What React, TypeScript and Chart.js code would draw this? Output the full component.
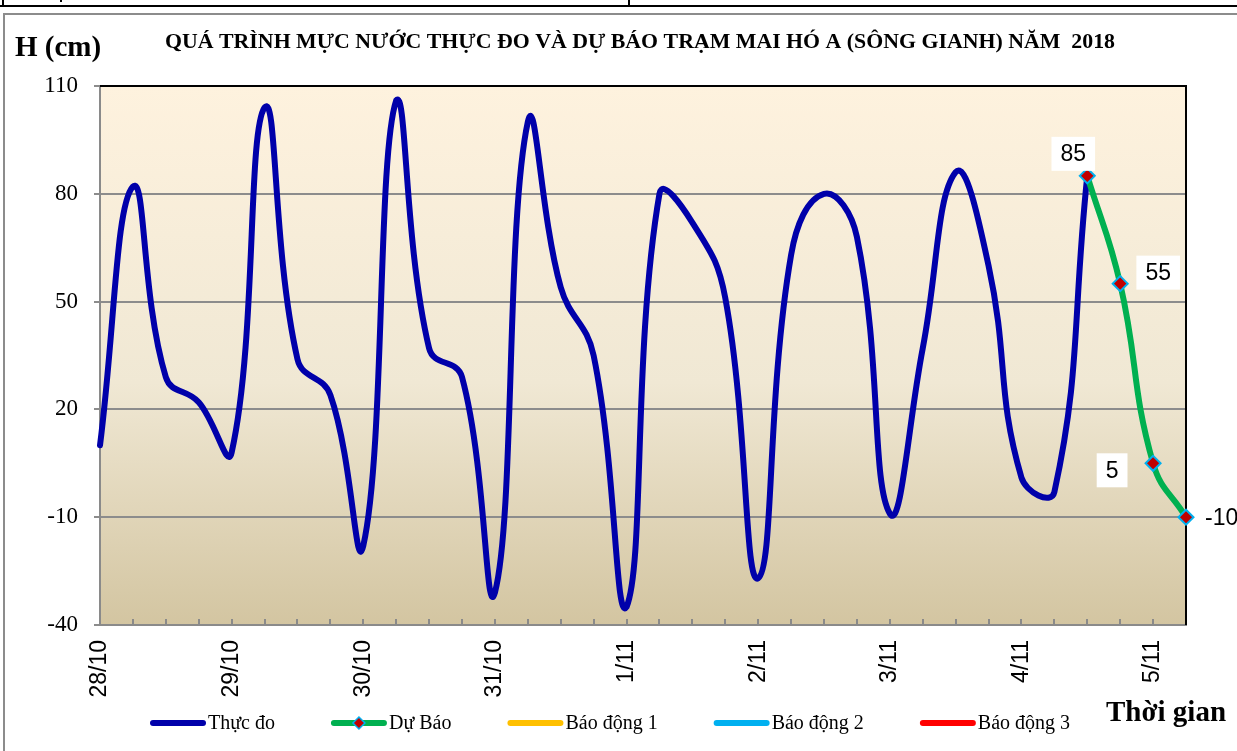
import React, { useEffect, useRef } from "react";
import { Chart, registerables } from "chart.js";

Chart.register(...registerables);

// ---- data ----
const dayLabels = ["28/10", "29/10", "30/10", "31/10", "1/11", "2/11", "3/11", "4/11", "5/11"];
const stepsPerDay = 4; // 6-hourly observations
const observed = [
  10, 82, 29, 22, 8, 104, 34, 24, -18, 106, 37, 29, -31, 100, 54, 35, -35, 80, 72, 51,
  -27, 63, 80, 68, -9, 37, 86, 60, 1, -3, 85,
];
const forecastStart = 30;
const forecastValues = [85, 55, 5, -10];
const yMin = -40;
const yMax = 110;
const yStep = 30;
const seriesNames = ["Thực đo", "Dự Báo", "Báo động 1", "Báo động 2", "Báo động 3"];
const seriesColors = ["#0000AA", "#00B050", "#FFC000", "#00B0F0", "#FF0000"];
const titleText = "QUÁ TRÌNH MỰC NƯỚC THỰC ĐO VÀ DỰ BÁO TRẠM MAI HÓ A (SÔNG GIANH) NĂM  2018";
const yTitle = "H (cm)";
const xTitle = "Thời gian";

// label placement for forecast data labels (style only)
const labelPlacement = [
  { dx: -14, dy: -22, align: "center" },
  { dx: 38, dy: -11, align: "center" },
  { dx: -41, dy: 7, align: "center" },
  { dx: 19, dy: 0, align: "left" },
];

const SERIF = '"Liberation Serif", "Times New Roman", serif';
const SANS = '"Liberation Sans", Arial, sans-serif';

export default function App() {
  const ref = useRef<HTMLCanvasElement>(null);

  useEffect(() => {
    document.body.style.margin = "0";
    const canvas = ref.current!;
    const total = forecastStart + forecastValues.length;
    const categories = Array.from({ length: total }, (_, i) =>
      i % stepsPerDay === 0 ? dayLabels[i / stepsPerDay] ?? "" : ""
    );
    const obsData: (number | null)[] = observed.concat(Array(total - observed.length).fill(null));
    const fcData: (number | null)[] = Array(forecastStart).fill(null).concat(forecastValues);

    const decorPlugin = {
      id: "decor",
      beforeDraw(chart: any) {
        const ctx = chart.ctx;
        const W = chart.width;
        const H = chart.height;
        ctx.save();
        ctx.fillStyle = "#ffffff";
        ctx.fillRect(0, 0, W, H);
        // table line at top of page
        ctx.fillStyle = "#000000";
        ctx.fillRect(0, 5, W, 2);
        ctx.fillRect(628, 0, 2, 6);
        ctx.fillRect(2, 0, 2, 6);
        ctx.fillRect(60, 0, 2, 2);
        // gray chart frame
        ctx.fillStyle = "#8c8c8c";
        ctx.fillRect(3, 13, W - 3, 2);
        ctx.fillRect(3, 13, 2, H - 13);
        // plot area gradient
        const a = chart.chartArea;
        const g = ctx.createLinearGradient(0, a.top, 0, a.bottom);
        g.addColorStop(0, "#FEF2DE");
        g.addColorStop(0.55, "#F0E8D4");
        g.addColorStop(1, "#D3C5A1");
        ctx.fillStyle = g;
        ctx.fillRect(a.left, a.top, a.right - a.left, a.bottom - a.top);
        ctx.restore();
      },
      beforeDatasetsDraw(chart: any) {
        const ctx = chart.ctx;
        const a = chart.chartArea;
        const xs = chart.scales.x;
        ctx.save();
        // minor ticks on x axis (pointing into the plot)
        ctx.strokeStyle = "#8a8a8a";
        ctx.lineWidth = 2;
        for (let i = 1; i < categories.length; i++) {
          const x = Math.round(xs.getPixelForValue(i));
          ctx.beginPath();
          ctx.moveTo(x, a.bottom);
          ctx.lineTo(x, a.bottom - 6);
          ctx.stroke();
        }
        // black top and right border
        ctx.strokeStyle = "#000000";
        ctx.lineWidth = 2;
        ctx.beginPath();
        ctx.moveTo(a.left, a.top);
        ctx.lineTo(a.right, a.top);
        ctx.lineTo(a.right, a.bottom);
        ctx.stroke();
        ctx.restore();
      },
      afterDatasetsDraw(chart: any) {
        const ctx = chart.ctx;
        const meta = chart.getDatasetMeta(1);
        ctx.save();
        ctx.font = `23px ${SANS}`;
        ctx.textBaseline = "middle";
        forecastValues.forEach((v, k) => {
          const el = meta.data[forecastStart + k];
          if (!el) return;
          const p = labelPlacement[k];
          const txt = String(v);
          const w = ctx.measureText(txt).width;
          const cx = el.x + p.dx;
          const left = p.align === "left" ? cx : cx - w / 2;
          ctx.fillStyle = "#ffffff";
          ctx.fillRect(left - 9, el.y + p.dy - 17, w + 18, 34);
          ctx.fillStyle = "#000000";
          ctx.textAlign = "left";
          ctx.fillText(txt, left, el.y + p.dy + 1);
        });
        ctx.restore();
      },
      afterDraw(chart: any) {
        const ctx = chart.ctx;
        ctx.save();
        ctx.fillStyle = "#000000";
        // title (compressed to fit)
        ctx.font = `bold 21px ${SERIF}`;
        ctx.textBaseline = "alphabetic";
        ctx.textAlign = "left";
        const tw = ctx.measureText(titleText).width;
        const target = 950;
        ctx.save();
        ctx.translate(165, 48);
        ctx.scale(target / tw, 1);
        ctx.fillText(titleText, 0, 0);
        ctx.restore();
        // axis titles
        ctx.font = `bold 29px ${SERIF}`;
        ctx.fillText(yTitle, 15, 56);
        ctx.fillText(xTitle, 1106, 721);
        // legend
        ctx.font = `20px ${SERIF}`;
        ctx.textBaseline = "middle";
        let x = 150;
        const ly = 723;
        seriesNames.forEach((name, i) => {
          ctx.strokeStyle = seriesColors[i];
          ctx.lineWidth = 6;
          ctx.lineCap = "round";
          ctx.beginPath();
          ctx.moveTo(x + 3, ly);
          ctx.lineTo(x + 53, ly);
          ctx.stroke();
          if (i === 1) {
            const mx = x + 28;
            ctx.beginPath();
            ctx.moveTo(mx, ly - 6);
            ctx.lineTo(mx + 6, ly);
            ctx.lineTo(mx, ly + 6);
            ctx.lineTo(mx - 6, ly);
            ctx.closePath();
            ctx.fillStyle = "#C00000";
            ctx.fill();
            ctx.strokeStyle = "#00B0F0";
            ctx.lineWidth = 1.5;
            ctx.stroke();
          }
          ctx.fillStyle = "#000000";
          ctx.fillText(name, x + 58, ly + 1);
          x += 58 + ctx.measureText(name).width + 56;
        });
        ctx.restore();
      },
    };

    const chart = new Chart(canvas, {
      type: "line",
      data: {
        labels: categories,
        datasets: [
          {
            label: seriesNames[0],
            data: obsData,
            borderColor: seriesColors[0],
            backgroundColor: seriesColors[0],
            borderWidth: 6,
            pointRadius: 0,
            tension: 0.45,
            fill: false,
            borderCapStyle: "round",
            borderJoinStyle: "round",
            order: 2,
          },
          {
            label: seriesNames[1],
            data: fcData,
            borderColor: seriesColors[1],
            backgroundColor: seriesColors[1],
            borderWidth: 6,
            pointRadius: 7.5,
            pointStyle: "rectRot",
            pointBackgroundColor: "#C00000",
            pointBorderColor: "#00B0F0",
            pointBorderWidth: 2,
            tension: 0.45,
            fill: false,
            borderCapStyle: "round",
            order: 1,
          },
          { label: seriesNames[2], data: [], borderColor: seriesColors[2], order: 3 },
          { label: seriesNames[3], data: [], borderColor: seriesColors[3], order: 4 },
          { label: seriesNames[4], data: [], borderColor: seriesColors[4], order: 5 },
        ],
      },
      options: {
        responsive: false,
        animation: false,
        layout: { padding: { left: 0, top: 86, right: 51, bottom: 0 } },
        plugins: {
          legend: { display: false },
          title: { display: false },
          tooltip: { enabled: false },
        },
        scales: {
          x: {
            type: "category",
            offset: false,
            grid: { display: true, drawOnChartArea: false, drawTicks: false },
            border: { display: true, color: "#8a8a8a", width: 2 },
            ticks: {
              autoSkip: false,
              minRotation: 90,
              maxRotation: 90,
              padding: 15,
              color: "#000000",
              font: { family: SANS, size: 23 },
            },
            afterFit: (s: any) => {
              s.height = 126;
            },
          },
          y: {
            min: yMin,
            max: yMax,
            ticks: {
              stepSize: yStep,
              padding: 16,
              color: "#000000",
              font: { family: SERIF, size: 23 },
            },
            grid: { color: "#8c8c8c", lineWidth: 2, tickLength: 6 },
            border: { display: true, color: "#8a8a8a", width: 2 },
            afterFit: (s: any) => {
              s.width = 100;
            },
          },
        },
      },
      plugins: [decorPlugin],
    } as any);

    return () => chart.destroy();
  }, []);

  return (
    <div style={{ width: 1237, height: 751 }}>
      <canvas ref={ref} width={1237} height={751} />
    </div>
  );
}
